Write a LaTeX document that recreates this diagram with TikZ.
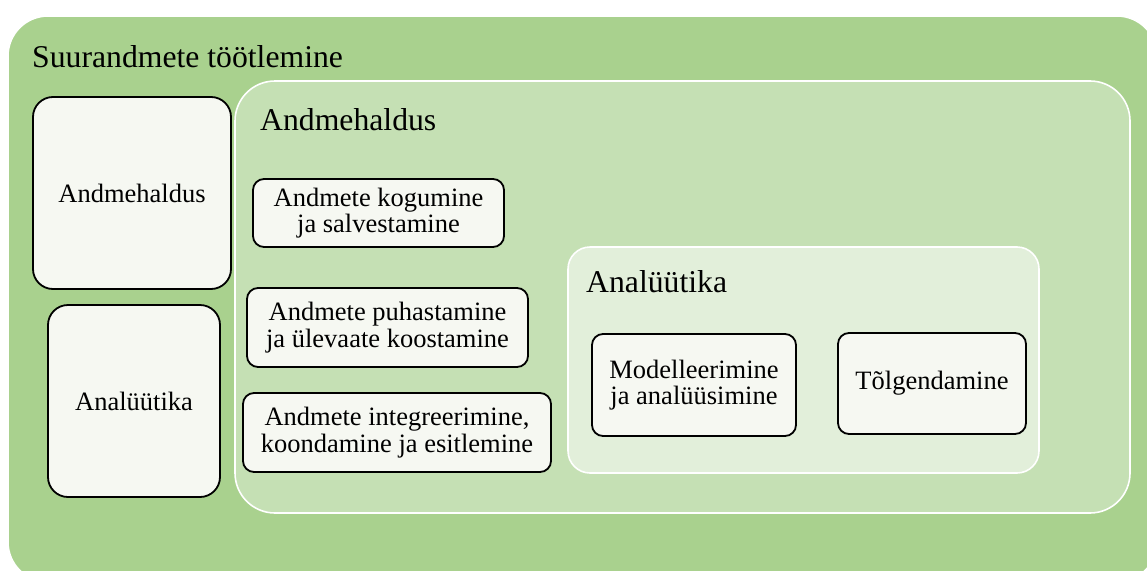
\documentclass[tikz,border=0pt]{standalone}
\usepackage{fontspec}
\setmainfont{Liberation Serif}
\definecolor{outerg}{HTML}{A9D18E}
\definecolor{midg}{HTML}{C5E0B4}
\definecolor{lightg}{HTML}{E2EFDA}
\definecolor{boxfill}{HTML}{F6F8F2}
\begin{document}
\begin{tikzpicture}[x=1pt,y=-1pt,
  panel/.style={draw=white, line width=1.6pt},
  itembox/.style={draw=black, line width=1.8pt, fill=boxfill, rounded corners=11pt,
    inner sep=0pt, align=center, font=\fontsize{26.5}{26.5}\selectfont},
  sidebox/.style={itembox, rounded corners=20pt},
  heading/.style={anchor=base west, inner sep=0pt, font=\fontsize{31.7}{36}\selectfont}]
\useasboundingbox (0,0) rectangle (1147,570);
\clip (0,0) rectangle (1147,570);
% nested panels
\filldraw[panel, fill=outerg, rounded corners=40pt] (8,16) rectangle (1157,582);
\filldraw[panel, fill=midg, rounded corners=40pt] (235,81) rectangle (1130,513);
\filldraw[panel, fill=lightg, rounded corners=22pt] (568,247) rectangle (1039,473);
% panel headings
\node[heading] (tTitle) at (32,67) {Suurandmete töötlemine};
\node[heading] (tMgmt) at (260,130) {Andmehaldus};
\node[heading] (tAna) at (586,292) {Analüütika};
% left column
\node[sidebox, minimum width=198pt, minimum height=192pt] (sMgmt) at (132,193) {Andmehaldus};
\node[sidebox, minimum width=172pt, minimum height=192pt] (sAna) at (134,401) {Analüütika};
% data management steps
\node[itembox, minimum width=251pt, minimum height=68pt] (b1) at (378.5,213) {Andmete kogumine\\ja salvestamine};
\node[itembox, minimum width=281pt, minimum height=79pt] (b2) at (387.5,327.5) {Andmete puhastamine\\ja ülevaate koostamine};
\node[itembox, minimum width=308pt, minimum height=79pt] (b3) at (397,432.5) {Andmete integreerimine,\\koondamine ja esitlemine};
% analytics steps
\node[itembox, minimum width=204pt, minimum height=102pt] (a1) at (694,385) {Modelleerimine\\ja analüüsimine};
\node[itembox, minimum width=188pt, minimum height=101pt] (a2) at (932,383.5) {Tõlgendamine};
\end{tikzpicture}
\end{document}
